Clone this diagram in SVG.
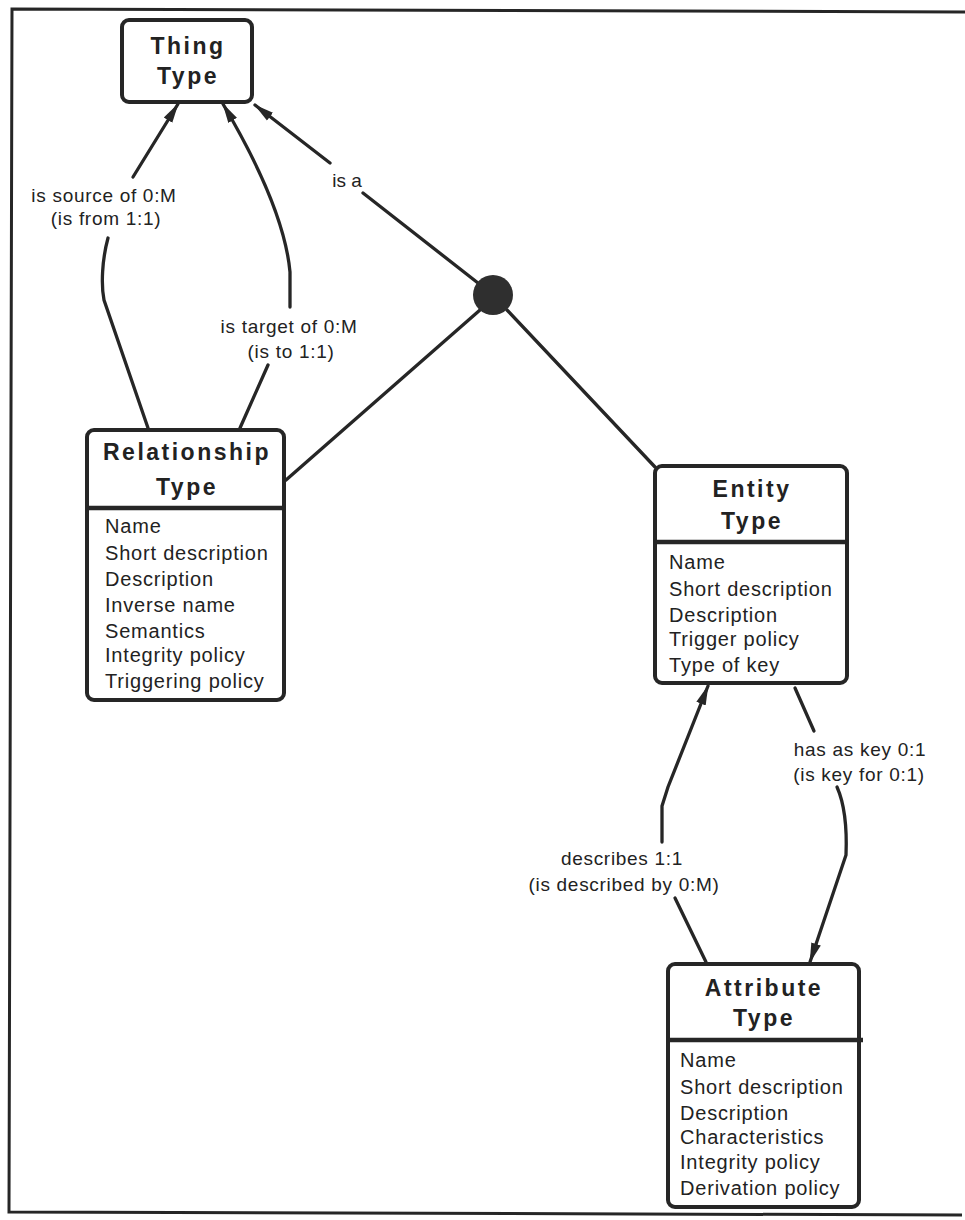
<svg xmlns="http://www.w3.org/2000/svg" width="965" height="1220" viewBox="0 0 965 1220">
<style>
.box{fill:#fff;stroke:#262626;stroke-width:4}
.div{stroke:#262626;stroke-width:4.5}
.title{font-family:"Liberation Sans",Arial,sans-serif;font-weight:bold;font-size:23px;letter-spacing:2.5px;fill:#222;text-anchor:middle}
.attr{font-family:"Liberation Sans",Arial,sans-serif;font-size:20px;letter-spacing:0.8px;fill:#222}
.lbl{font-family:"Liberation Sans",Arial,sans-serif;font-size:19px;letter-spacing:0.7px;fill:#222;text-anchor:middle}
.con{fill:none;stroke:#262626;stroke-width:3.3;stroke-linecap:round}
.frame{fill:none;stroke:#262626;stroke-width:3}
</style>
<defs>
<marker id="arr" markerUnits="userSpaceOnUse" markerWidth="20" markerHeight="12" refX="19" refY="6" orient="auto">
<path d="M0,1 L20,6 L0,11 z" fill="#262626"/>
</marker>
</defs>
<rect width="965" height="1220" fill="#fff"/>
<polyline class="frame" points="965,12 12,9 9,1212 962,1215"/>

<g id="connectors">
<path class="con" d="M133,177 L178,104" marker-end="url(#arr)"/>
<path class="con" d="M148,428 L104,300 C101,285 102,260 108,238"/>
<path class="con" d="M290,307 L290,272 C286,228 262,170 223,104" marker-end="url(#arr)"/>
<path class="con" d="M240,428 L268,365"/>
<path class="con" d="M330,163 L255,105" marker-end="url(#arr)"/>
<path class="con" d="M363,193 L478,283"/>
<path class="con" d="M480,310 L286,480"/>
<path class="con" d="M507,310 L655,467"/>
<path class="con" d="M662,842 L662,806 L668,787 L708,686" marker-end="url(#arr)"/>
<path class="con" d="M675,898 L706,962"/>
<path class="con" d="M795,688 L814,731"/>
<path class="con" d="M837,787 C845,805 847,830 846,855 L810,962" marker-end="url(#arr)"/>
<text class="lbl" x="104" y="202">is source of 0:M</text>
<text class="lbl" x="106" y="225">(is from 1:1)</text>
<text class="lbl" x="289" y="333">is target of 0:M</text>
<text class="lbl" x="291" y="358">(is to 1:1)</text>
<text class="lbl" x="347" y="187" style="letter-spacing:0">is a</text>
<text class="lbl" x="622" y="865">describes 1:1</text>
<text class="lbl" x="624" y="891">(is described by 0:M)</text>
<text class="lbl" x="860" y="756">has as key 0:1</text>
<text class="lbl" x="859" y="781">(is key for 0:1)</text>
</g>

<g id="junction">
<circle cx="493" cy="295" r="20" fill="#2f2f2f"/>
</g>

<g id="thing-type">
<rect class="box" x="122" y="20" width="130" height="82" rx="7"/>
<text class="title" x="188" y="54">Thing</text>
<text class="title" x="188" y="84">Type</text>
</g>

<g id="relationship-type">
<rect class="box" x="87" y="430" width="197" height="270" rx="7"/>
<line class="div" x1="87" y1="508" x2="284" y2="508"/>
<text class="title" x="187" y="460">Relationship</text>
<text class="title" x="187" y="495">Type</text>
<text class="attr" x="105" y="533">Name</text>
<text class="attr" x="105" y="560">Short description</text>
<text class="attr" x="105" y="586">Description</text>
<text class="attr" x="105" y="612">Inverse name</text>
<text class="attr" x="105" y="638">Semantics</text>
<text class="attr" x="105" y="662">Integrity policy</text>
<text class="attr" x="105" y="688">Triggering policy</text>
</g>

<g id="entity-type">
<rect class="box" x="655" y="466" width="192" height="217" rx="7"/>
<line class="div" x1="655" y1="542" x2="847" y2="542"/>
<text class="title" x="752" y="497">Entity</text>
<text class="title" x="752" y="529">Type</text>
<text class="attr" x="669" y="569">Name</text>
<text class="attr" x="669" y="596">Short description</text>
<text class="attr" x="669" y="622">Description</text>
<text class="attr" x="669" y="646">Trigger policy</text>
<text class="attr" x="669" y="672">Type of key</text>
</g>

<g id="attribute-type">
<rect class="box" x="668" y="964" width="191" height="243" rx="7"/>
<line class="div" x1="668" y1="1040" x2="863" y2="1040"/>
<text class="title" x="764" y="996">Attribute</text>
<text class="title" x="764" y="1026">Type</text>
<text class="attr" x="680" y="1067">Name</text>
<text class="attr" x="680" y="1094">Short description</text>
<text class="attr" x="680" y="1120">Description</text>
<text class="attr" x="680" y="1144">Characteristics</text>
<text class="attr" x="680" y="1169">Integrity policy</text>
<text class="attr" x="680" y="1195">Derivation policy</text>
</g>
</svg>
